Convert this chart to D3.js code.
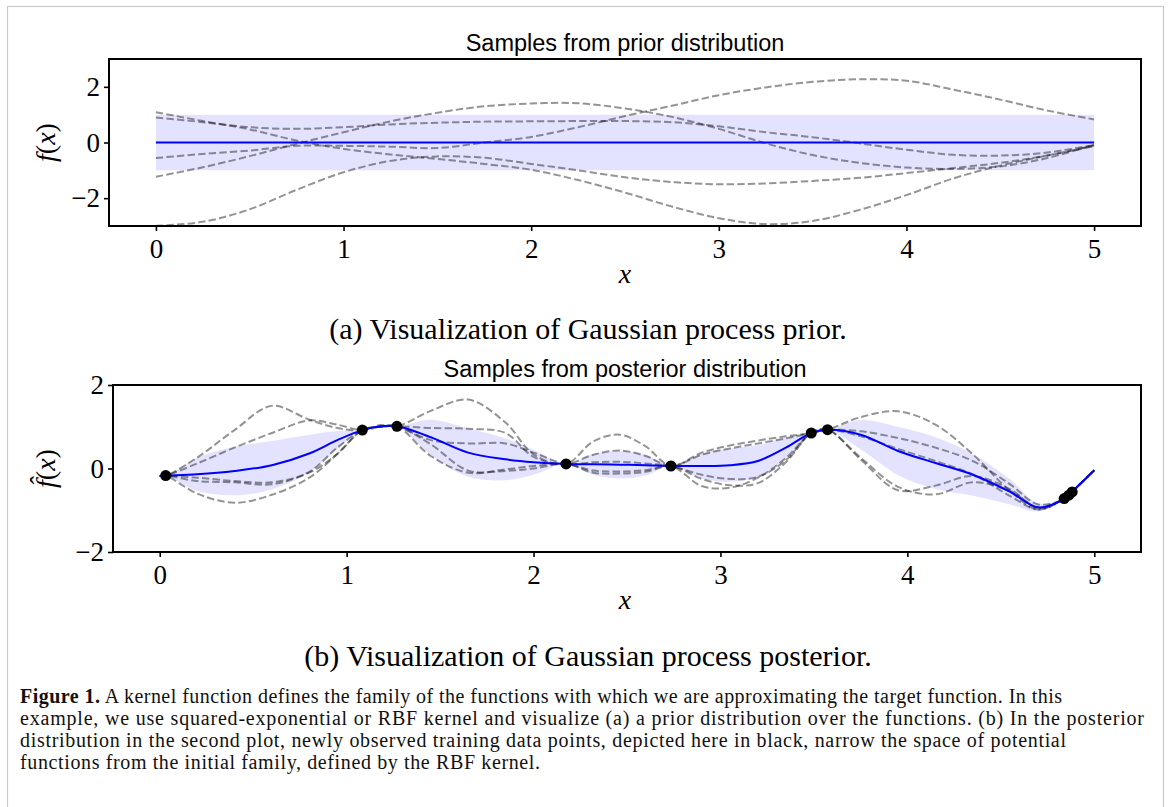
<!DOCTYPE html>
<html>
<head>
<meta charset="utf-8">
<script src="https://cdn.jsdelivr.net/npm/d3@7"></script>
<style>
  body { margin: 0; background: #fff; }
  svg { display: block; }
</style>
</head>
<body>
<svg id="main"></svg>
<script>
//--------data----------
// prior panel: mean 0, band +-1, five sample draws on a common grid
const priorX = [0, 0.25, 0.5, 0.75, 1.0, 1.25, 1.5, 1.75, 2.0, 2.25, 2.5, 2.75, 3.0, 3.25, 3.5, 3.75, 4.0, 4.25, 4.5, 4.75, 5.0];
const priorMean = priorX.map(() => 0);
const priorBand = priorX.map(() => 1);
const priorSamples = [
  [1.09, 0.77, 0.47, 0.07, -0.23, -0.43, -0.59, -0.77, -0.98, -1.35, -1.8, -2.3, -2.72, -2.93, -2.82, -2.42, -1.89, -1.29, -0.83, -0.47, -0.11],
  [0.9, 0.73, 0.55, 0.49, 0.55, 0.65, 0.71, 0.75, 0.76, 0.77, 0.77, 0.73, 0.58, 0.37, 0.19, -0.03, -0.26, -0.44, -0.47, -0.36, -0.09],
  [-0.56, -0.41, -0.29, -0.12, -0.12, -0.15, -0.2, 0.0, 0.2, 0.55, 0.95, 1.32, 1.7, 1.98, 2.18, 2.27, 2.22, 1.9, 1.54, 1.15, 0.83],
  [-1.23, -0.89, -0.49, -0.05, 0.37, 0.76, 1.07, 1.3, 1.4, 1.41, 1.22, 0.92, 0.49, -0.03, -0.45, -0.73, -0.9, -0.95, -0.86, -0.56, -0.08],
  [-2.99, -2.85, -2.4, -1.7, -1.07, -0.66, -0.5, -0.55, -0.77, -1.0, -1.25, -1.42, -1.5, -1.47, -1.38, -1.27, -1.1, -0.92, -0.73, -0.47, -0.13]
];

// posterior panel
const postX = [0, 0.032, 0.2, 0.4, 0.6, 0.8, 0.95, 1.084, 1.18, 1.269, 1.45, 1.65, 1.85, 2.0, 2.174, 2.32, 2.46, 2.6, 2.735, 2.9, 3.05, 3.2, 3.35, 3.486, 3.573, 3.75, 3.95, 4.15, 4.35, 4.55, 4.7, 4.839, 4.92, 5.0];
const postMean = [-0.18, -0.17, -0.14, -0.06, 0.08, 0.36, 0.68, 0.92, 1.01, 1.01, 0.75, 0.38, 0.22, 0.15, 0.11, 0.10, 0.09, 0.08, 0.06, 0.06, 0.08, 0.18, 0.5, 0.85, 0.93, 0.81, 0.42, 0.13, -0.15, -0.56, -0.93, -0.72, -0.39, -0.04];
const postBand = [0.03, 0, 0.4, 0.58, 0.58, 0.45, 0.22, 0, 0.03, 0, 0.42, 0.58, 0.5, 0.3, 0, 0.25, 0.33, 0.25, 0, 0.3, 0.4, 0.38, 0.25, 0, 0, 0.35, 0.58, 0.62, 0.5, 0.3, 0.1, 0, 0.02, 0.05];
const postSamples = [
  [-0.18, -0.17, 0.26, 0.92, 1.5, 1.17, 0.97, 0.92, 1.04, 1.01, 1.38, 1.65, 1.1, 0.34, 0.11, 0.65, 0.81, 0.53, 0.06, 0.38, 0.55, 0.67, 0.77, 0.85, 0.93, 1.23, 1.37, 1.05, 0.34, -0.54, -0.98, -0.72, -0.39, -0.04],
  [-0.18, -0.17, 0.12, 0.5, 0.85, 1.15, 1.05, 0.92, 1.0, 1.01, 0.97, 0.95, 0.85, 0.28, 0.11, 0.33, 0.43, 0.3, 0.06, 0.33, 0.48, 0.6, 0.72, 0.85, 0.93, 0.89, 0.73, 0.5, 0.18, -0.38, -0.86, -0.72, -0.39, -0.04],
  [-0.18, -0.17, -0.22, -0.3, -0.33, -0.1, 0.35, 0.92, 1.0, 1.01, 0.68, 0.6, 0.6, 0.38, 0.11, 0.15, 0.16, 0.12, 0.06, -0.15, -0.25, -0.2, 0.2, 0.85, 0.93, 0.77, 0.47, 0.18, -0.14, -0.66, -0.98, -0.72, -0.39, -0.04],
  [-0.18, -0.17, -0.3, -0.33, -0.38, -0.08, 0.5, 0.92, 1.0, 1.01, 0.3, -0.1, -0.02, 0.06, 0.11, -0.05, -0.07, -0.04, 0.06, -0.42, -0.46, -0.22, 0.25, 0.85, 0.93, 0.22, -0.52, -0.41, -0.18, -0.5, -0.94, -0.72, -0.39, -0.04],
  [-0.18, -0.17, -0.6, -0.82, -0.63, -0.22, 0.35, 0.92, 1.0, 1.01, 0.58, -0.05, -0.06, 0.0, 0.11, -0.1, -0.12, -0.08, 0.06, -0.25, -0.4, -0.35, 0.15, 0.85, 0.93, 0.26, -0.44, -0.62, -0.33, -0.54, -0.94, -0.72, -0.39, -0.04]
];
const obsX = [0.032, 1.084, 1.269, 2.174, 2.735, 3.486, 3.573, 4.839, 4.864, 4.882];
const obsY = [-0.17, 0.92, 1.01, 0.11, 0.06, 0.85, 0.93, -0.72, -0.64, -0.56];

const xTicks = [0, 1, 2, 3, 4, 5];
const yTicksPrior = [-2, 0, 2];
const yTicksPost = [-2, 0, 2];

const captionLines = [
  ['Figure 1.', ' A kernel function defines the family of the functions with which we are approximating the target function. In this'],
  ['', 'example, we use squared-exponential or RBF kernel and visualize (a) a prior distribution over the functions. (b) In the posterior'],
  ['', 'distribution in the second plot, newly observed training data points, depicted here in black, narrow the space of potential'],
  ['', 'functions from the initial family, defined by the RBF kernel.']
];
const captionWidths = [1042, 1124, 1046, 520];

//--------code----------
const width = 1171, height = 807;
const serif = '"Liberation Serif", "DejaVu Serif", serif';
const sans = '"Liberation Sans", Arial, sans-serif';

let svg = d3.select('#main')
  .attr('width', width)
  .attr('height', height);

svg.append('rect')
  .attr('x', 7.5).attr('y', 6.5)
  .attr('width', 1156).attr('height', 830)
  .attr('fill', 'none')
  .attr('stroke', '#c9c9c9')
  .attr('stroke-width', 1.2);

function panel(opt){
  let g = svg.append('g');
  let sx = d3.scaleLinear().domain([-0.25, 5.25]).range([opt.left, 1141]);
  let sy = d3.scaleLinear().domain(opt.yDomain).range([opt.bottom, opt.top]);
  let curve = d3.curveCatmullRom.alpha(0.5);

  g.append('path')
    .datum(opt.xs.map((x, i) => [x, opt.mean[i], opt.band[i]]))
    .attr('d', d3.area().curve(curve)
      .x(d => sx(d[0]))
      .y0(d => sy(d[1] - d[2]))
      .y1(d => sy(d[1] + d[2])))
    .attr('fill', '#0000ff')
    .attr('fill-opacity', 0.11);

  let line = d3.line().curve(curve).x(d => sx(d[0])).y(d => sy(d[1]));

  g.selectAll('.sample')
    .data(opt.samples)
    .join('path')
    .attr('class', 'sample')
    .attr('d', s => line(opt.xs.map((x, i) => [x, s[i]])))
    .attr('fill', 'none')
    .attr('stroke', '#000')
    .attr('stroke-opacity', 0.42)
    .attr('stroke-width', 2)
    .attr('stroke-dasharray', '7.4,3.2');

  g.append('path')
    .attr('d', line(opt.xs.map((x, i) => [x, opt.mean[i]])))
    .attr('fill', 'none')
    .attr('stroke', '#0000ff')
    .attr('stroke-width', 2);

  if(opt.obsX){
    g.selectAll('.obs')
      .data(opt.obsX.map((x, i) => [x, opt.obsY[i]]))
      .join('circle')
      .attr('class', 'obs')
      .attr('cx', d => sx(d[0]))
      .attr('cy', d => sy(d[1]))
      .attr('r', 5.5)
      .attr('fill', '#000');
  }

  // frame
  g.append('rect')
    .attr('x', opt.left).attr('y', opt.top)
    .attr('width', 1141 - opt.left).attr('height', opt.bottom - opt.top)
    .attr('fill', 'none')
    .attr('stroke', '#000')
    .attr('stroke-width', 2);

  let fmt = d => d < 0 ? '\u2212' + Math.abs(d) : String(d);
  let gx = g.append('g')
    .attr('transform', `translate(0,${opt.bottom})`)
    .call(d3.axisBottom(sx).tickValues(xTicks).tickFormat(fmt).tickSize(5).tickPadding(8));
  let gy = g.append('g')
    .attr('transform', `translate(${opt.left},0)`)
    .call(d3.axisLeft(sy).tickValues(opt.yTicks).tickFormat(fmt).tickSize(5).tickPadding(4));
  for(let a of [gx, gy]){
    a.select('.domain').remove();
    a.selectAll('line').attr('stroke-width', 1.6);
    a.selectAll('text')
      .attr('font-family', serif)
      .attr('font-size', 27)
      .attr('fill', '#000');
  }

  g.append('text')
    .attr('x', 625).attr('y', opt.top - 8)
    .attr('text-anchor', 'middle')
    .attr('font-family', sans)
    .attr('font-size', 23.5)
    .text(opt.title);

  g.append('text')
    .attr('x', 625).attr('y', opt.bottom + 57)
    .attr('text-anchor', 'middle')
    .attr('font-family', serif)
    .attr('font-style', 'italic')
    .attr('font-size', 28)
    .text('x');

  let yl = g.append('text')
    .attr('transform', `translate(55,${(opt.top + opt.bottom) / 2}) rotate(-90)`)
    .attr('text-anchor', 'middle')
    .attr('font-family', serif)
    .attr('font-size', 28);
  yl.append('tspan').attr('font-style', 'italic').text(opt.hat ? 'f\u0302' : 'f');
  yl.append('tspan').text('(');
  yl.append('tspan').attr('font-style', 'italic').text('x');
  yl.append('tspan').text(')');

  svg.append('text')
    .attr('x', 588).attr('y', opt.captionY)
    .attr('text-anchor', 'middle')
    .attr('font-family', serif)
    .attr('font-size', 30)
    .text(opt.caption);
}

panel({
  left: 109, top: 59, bottom: 226, yDomain: [-3, 3], yTicks: yTicksPrior,
  xs: priorX, mean: priorMean, band: priorBand, samples: priorSamples,
  title: 'Samples from prior distribution',
  caption: '(a) Visualization of Gaussian process prior.', captionY: 339
});

panel({
  left: 113, top: 385, bottom: 552, yDomain: [-2, 2], yTicks: yTicksPost,
  xs: postX, mean: postMean, band: postBand, samples: postSamples,
  obsX: obsX, obsY: obsY, hat: true,
  title: 'Samples from posterior distribution',
  caption: '(b) Visualization of Gaussian process posterior.', captionY: 666
});

let cap = svg.append('g')
  .attr('font-family', serif)
  .attr('font-size', 20)
  .attr('fill', '#111');
captionLines.forEach((l, i) => {
  let t = cap.append('text')
    .attr('x', 20)
    .attr('y', 703 + i * 22)
    .attr('textLength', captionWidths[i])
    .attr('lengthAdjust', 'spacing');
  if(l[0]) t.append('tspan').attr('font-weight', 'bold').text(l[0]);
  t.append('tspan').text(l[1]);
});
</script>
</body>
</html>
